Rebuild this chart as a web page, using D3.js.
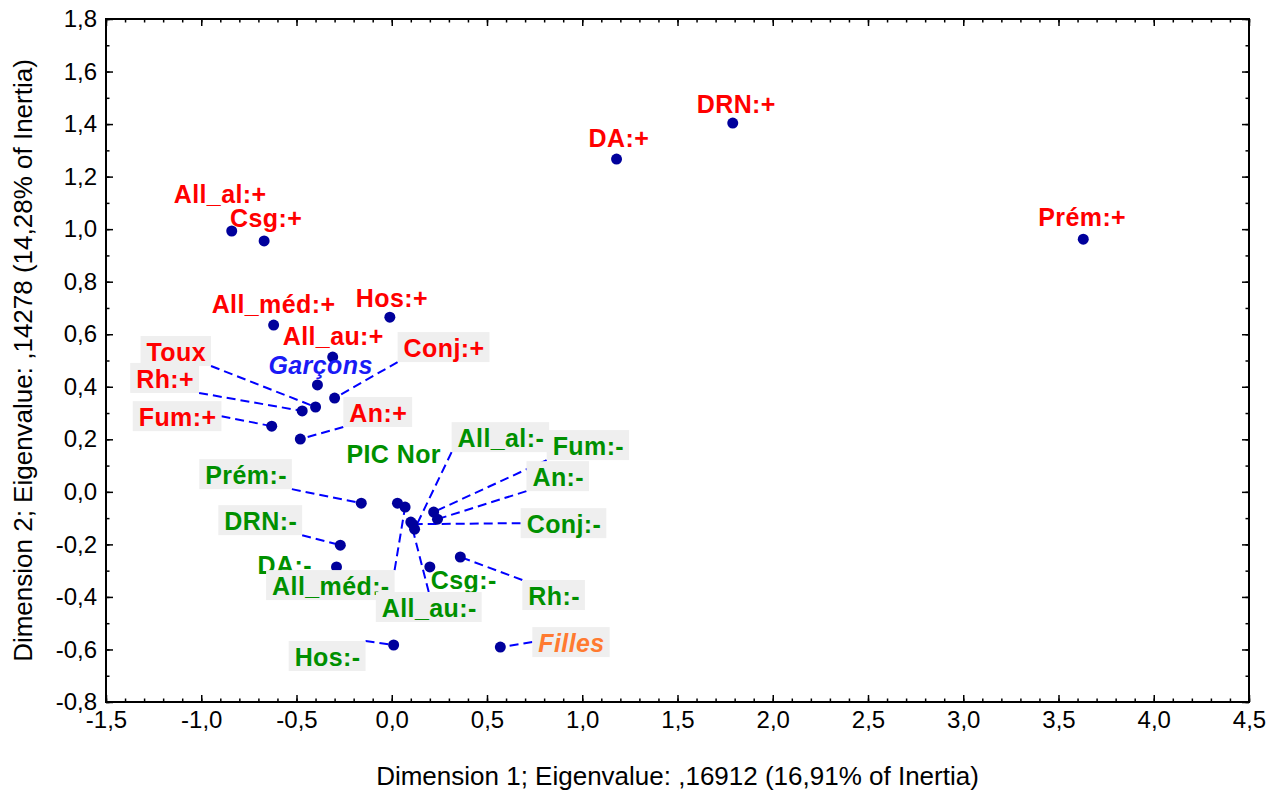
<!DOCTYPE html>
<html>
<head>
<meta charset="utf-8">
<script src="https://cdn.jsdelivr.net/npm/d3@7"></script>
<style>
  body { margin: 0; background: #fff; }
  svg { display: block; font-family: "Liberation Sans", Arial, sans-serif; }
</style>
</head>
<body>
<div id="chart"></div>
<script>
// category labels of the correspondence analysis (draw order matters for overlaps)
var categories = ["DRN:+", "DA:+", "Prém:+", "All_al:+", "Csg:+", "All_méd:+", "Hos:+", "All_au:+",
  "Conj:+", "Toux", "Rh:+", "Fum:+", "An:+", "Garçons",
  "PIC Nor", "DA:-", "All_méd:-", "Csg:-", "All_au:-", "Conj:-", "Fum:-", "All_al:-", "An:-",
  "Rh:-", "Prém:-", "DRN:-", "Hos:-", "Filles"];
var dim1 = [1.79, 1.18, 3.63, -0.84, -0.67, -0.62, -0.01, -0.31,
  -0.30, -0.40, -0.47, -0.63, -0.48, -0.39,
  0.03, -0.29, 0.07, 0.20, 0.10, 0.11, 0.22, 0.12, 0.24,
  0.36, -0.16, -0.27, 0.01, 0.57];
var dim2 = [1.404, 1.267, 0.962, 0.993, 0.955, 0.635, 0.665, 0.513,
  0.357, 0.323, 0.308, 0.250, 0.201, 0.407,
  -0.043, -0.286, -0.058, -0.286, -0.115, -0.123, -0.077, -0.142, -0.104,
  -0.248, -0.043, -0.203, -0.583, -0.591];
var groups = ["plus", "plus", "plus", "plus", "plus", "plus", "plus", "plus",
  "plus", "plus", "plus", "plus", "plus", "boy",
  "minus", "minus", "minus", "minus", "minus", "minus", "minus", "minus", "minus",
  "minus", "minus", "minus", "minus", "girl"];

var xTicks = [-1.5, -1.0, -0.5, 0.0, 0.5, 1.0, 1.5, 2.0, 2.5, 3.0, 3.5, 4.0, 4.5];
var yTicks = [-0.8, -0.6, -0.4, -0.2, 0.0, 0.2, 0.4, 0.6, 0.8, 1.0, 1.2, 1.4, 1.6, 1.8];
var xTitle = "Dimension 1; Eigenvalue: ,16912 (16,91% of Inertia)";
var yTitle = "Dimension 2; Eigenvalue: ,14278 (14,28% of Inertia)";

// label placement in pixels relative to the point (text start, baseline), box = grey label box + leader line
var placement = {
  "DRN:+": [-36, -10, 0], "DA:+": [-28, -12, 0], "Prém:+": [-45, -13, 0], "All_al:+": [-58, -28, 0],
  "Csg:+": [-34, -14, 0], "All_méd:+": [-62, -12, 0], "Hos:+": [-34, -10, 0], "All_au:+": [-50, -12, 0],
  "Conj:+": [69, -41, 1], "Toux": [-169, -46, 1], "Rh:+": [-166, -23, 1], "Fum:+": [-133, 0, 1],
  "An:+": [49, -17, 1], "Garçons": [-49, -11, 0],
  "PIC Nor": [-51, -40, 0], "DA:-": [-79, 7, 0], "All_méd:-": [-133, 88, 1], "Csg:-": [1, 22, 0],
  "All_au:-": [-29, 95, 1], "Conj:-": [114, 9, 1], "Fum:-": [119, -57, 1], "All_al:-": [43, -82, 1],
  "An:-": [95, -33, 1], "Rh:-": [68, 48, 1], "Prém:-": [-156, -19, 1], "DRN:-": [-116, -15, 1],
  "Hos:-": [-99, 21, 1], "Filles": [38, 5, 1]
};

var W = 1279, H = 793;
var svg = d3.select("#chart").append("svg").attr("width", W).attr("height", H);

var x = d3.scaleLinear().domain([-1.5, 4.5]).range([106, 1249]);
var y = d3.scaleLinear().domain([-0.8, 1.8]).range([702, 19]);

var color = d3.scaleOrdinal().domain(["plus", "minus", "boy", "girl"])
  .range(["#ff0000", "#009000", "#1a1af5", "#ff7a30"]);

var fmt = d3.formatLocale({ decimal: ",", thousands: ".", grouping: [3], currency: ["", ""], minus: "-" }).format(".1f");

var minorX = d3.range(-15, 46).map(function(d) { return d / 10; });
var minorY = d3.range(-8, 19).map(function(d) { return d / 10; });

function styleAxis(g) {
  g.select(".domain").remove();
  g.selectAll("line").attr("stroke", "#000").attr("stroke-width", 1.5);
  g.selectAll("text").attr("font-size", "24px").attr("fill", "#000")
    .attr("font-family", "Liberation Sans, Arial, sans-serif");
}

// bottom / left with labels
svg.append("g").attr("transform", "translate(0,702)")
  .call(d3.axisBottom(x).tickValues(xTicks).tickSize(-7).tickPadding(9).tickFormat(fmt))
  .call(styleAxis);
svg.append("g").attr("transform", "translate(106,0)")
  .call(d3.axisLeft(y).tickValues(yTicks).tickSize(-7).tickPadding(9).tickFormat(fmt))
  .call(styleAxis);
// top / right mirrored
svg.append("g").attr("transform", "translate(0,19)")
  .call(d3.axisTop(x).tickValues(xTicks).tickSize(-7).tickFormat(""))
  .call(styleAxis);
svg.append("g").attr("transform", "translate(1249,0)")
  .call(d3.axisRight(y).tickValues(yTicks).tickSize(-7).tickFormat(""))
  .call(styleAxis);
// minor ticks
[["axisBottom", 702], ["axisTop", 19]].forEach(function(a) {
  svg.append("g").attr("transform", "translate(0," + a[1] + ")")
    .call(d3[a[0]](x).tickValues(minorX).tickSize(-3.5).tickFormat(""))
    .call(styleAxis);
});
[["axisLeft", 106], ["axisRight", 1249]].forEach(function(a) {
  svg.append("g").attr("transform", "translate(" + a[1] + ",0)")
    .call(d3[a[0]](y).tickValues(minorY).tickSize(-3.5).tickFormat(""))
    .call(styleAxis);
});

svg.append("rect")
  .attr("x", 106).attr("y", 19).attr("width", 1249 - 106).attr("height", 702 - 19)
  .attr("fill", "none").attr("stroke", "#000").attr("stroke-width", 2);

// axis titles
svg.append("text")
  .attr("x", (106 + 1249) / 2).attr("y", 785)
  .attr("text-anchor", "middle").attr("font-size", "26px").attr("fill", "#000")
  .text(xTitle);
svg.append("text")
  .attr("transform", "translate(32," + ((19 + 702) / 2) + ") rotate(-90)")
  .attr("text-anchor", "middle").attr("font-size", "26px").attr("fill", "#000")
  .text(yTitle);

var lineG = svg.append("g");
var dotG = svg.append("g");
var labelG = svg.append("g");

var points = categories.map(function(c, i) {
  return { name: c, px: x(dim1[i]), py: y(dim2[i]), group: groups[i] };
});

dotG.selectAll("circle")
  .data(points)
  .enter()
  .append("circle")
  .attr("cx", function(d) { return d.px; })
  .attr("cy", function(d) { return d.py; })
  .attr("r", 5.5)
  .attr("fill", "#00009c");

points.forEach(function(d) {
  var p = placement[d.name];
  var tx = d.px + p[0], ty = d.py + p[1];
  var g = labelG.append("g");
  var box = g.append("rect");
  var t = g.append("text")
    .attr("x", tx).attr("y", ty)
    .attr("font-size", "25px")
    .attr("letter-spacing", "0.4px")
    .attr("font-weight", "bold")
    .attr("font-style", (d.group === "boy" || d.group === "girl") ? "italic" : "normal")
    .attr("fill", color(d.group))
    .text(d.name);
  if (!p[2]) { box.remove(); return; }
  var len = t.node().getComputedTextLength();
  var bx0 = tx - 6, bx1 = tx + len + 5, by0 = ty - 25, by1 = ty + 5;
  box.attr("x", bx0).attr("y", by0).attr("width", bx1 - bx0).attr("height", by1 - by0)
    .attr("fill", "#efefef");
  var mx = (bx0 + bx1) / 2, my = (by0 + by1) / 2;
  var anchors = [[bx0, by0], [mx, by0], [bx1, by0], [bx1, my], [bx1, by1], [mx, by1], [bx0, by1], [bx0, my]];
  var best = anchors[0], bd = Infinity;
  anchors.forEach(function(a) {
    var dd = Math.hypot(a[0] - d.px, a[1] - d.py);
    if (dd < bd - 1) { bd = dd; best = a; }
  });
  lineG.append("line")
    .attr("x1", best[0]).attr("y1", best[1])
    .attr("x2", d.px).attr("y2", d.py)
    .attr("stroke", "#0000ff")
    .attr("stroke-width", 2)
    .attr("stroke-dasharray", "9,5");
});
</script>
</body>
</html>
